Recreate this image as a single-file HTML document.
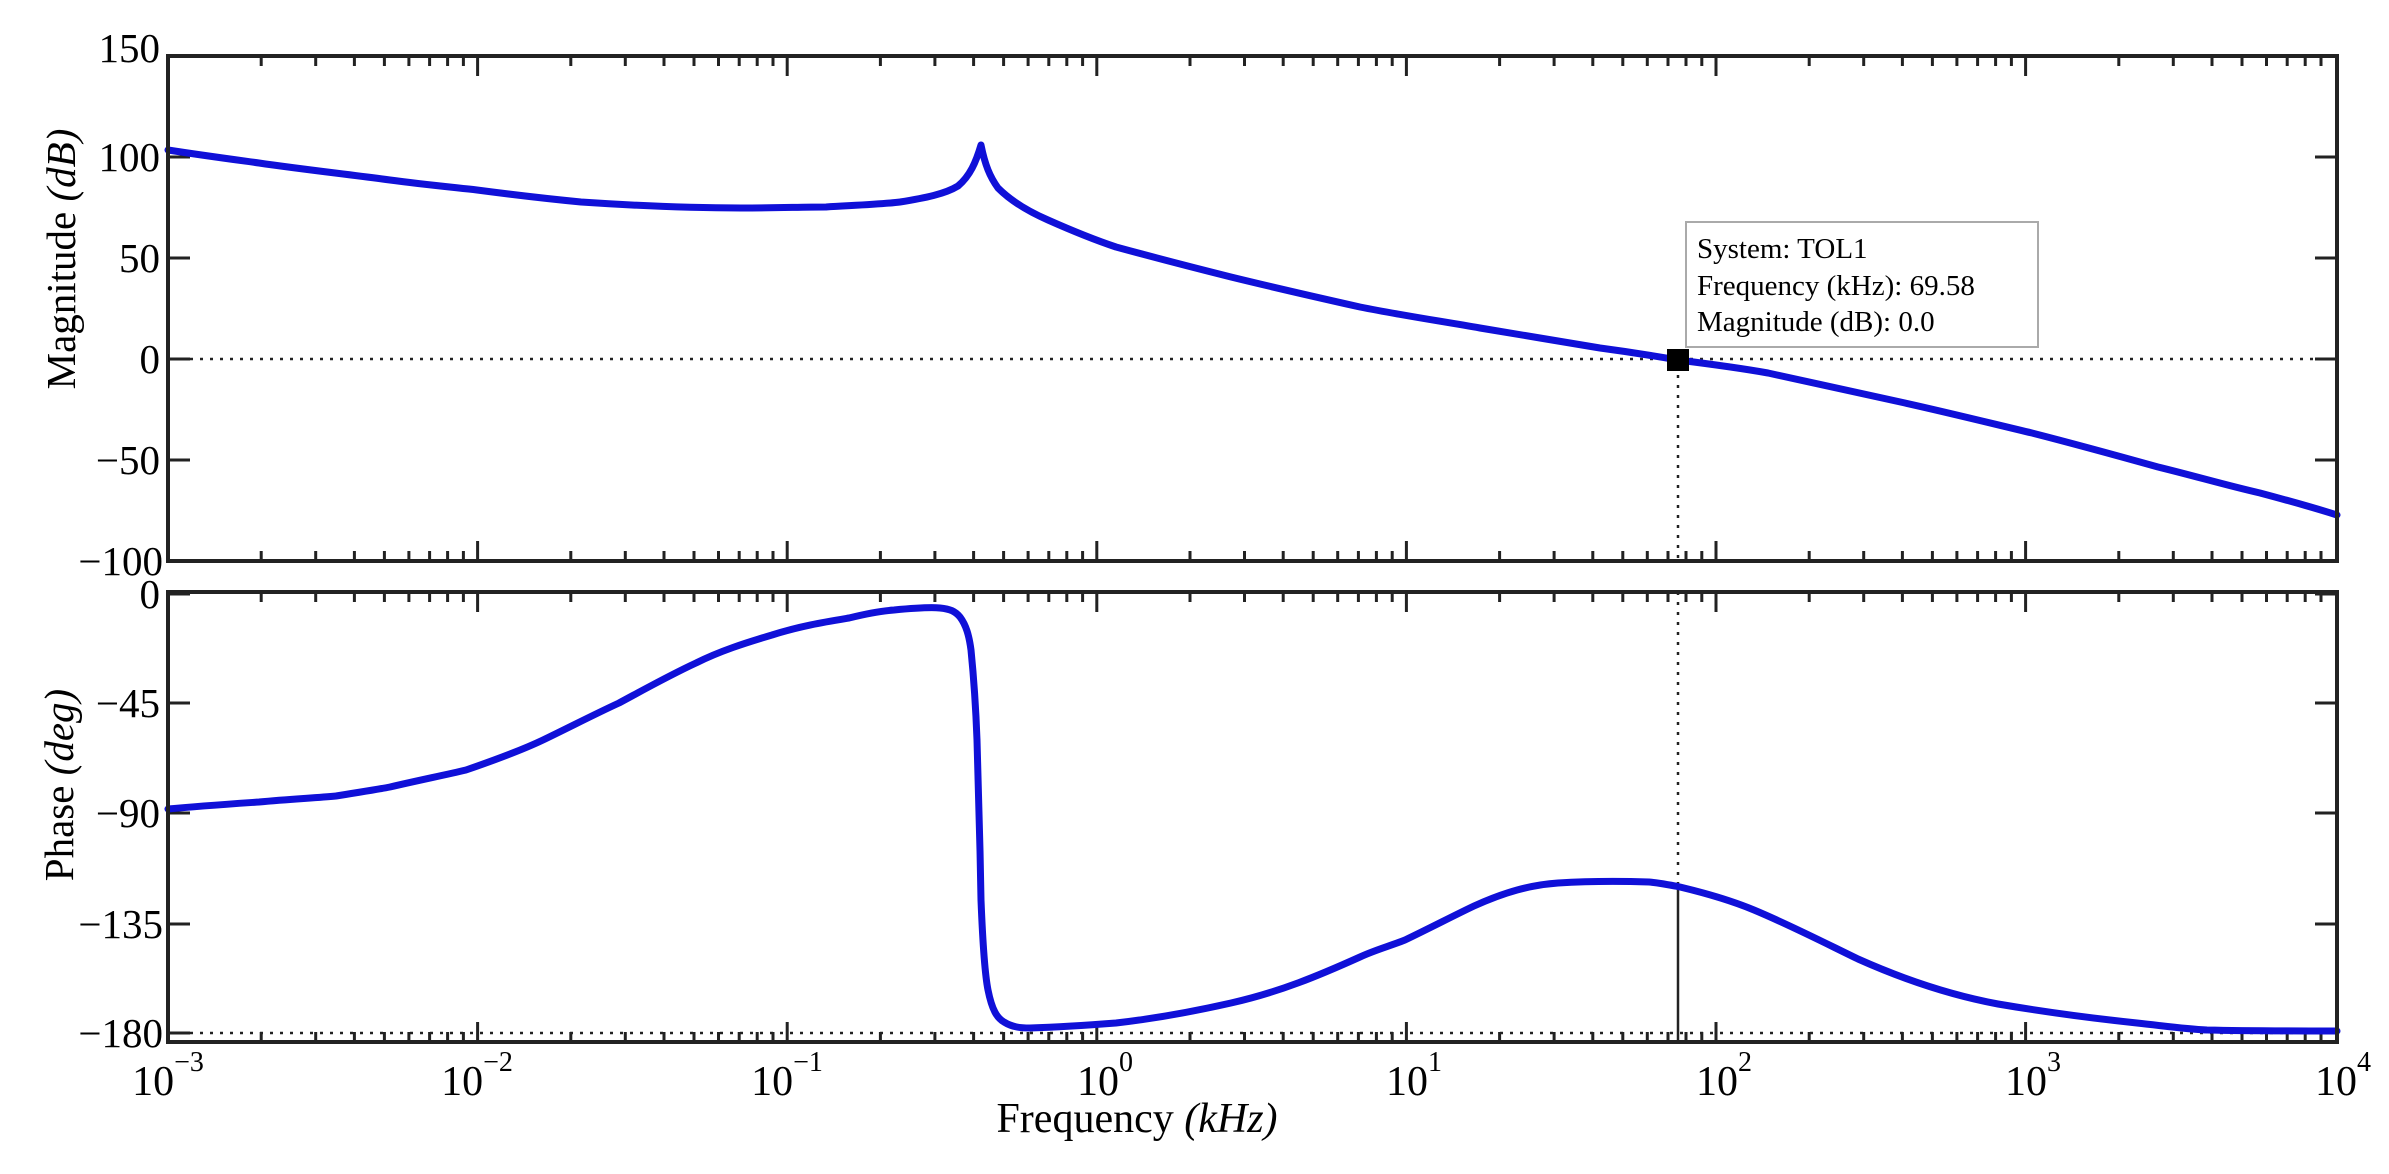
<!DOCTYPE html>
<html><head><meta charset="utf-8"><style>
html,body{margin:0;padding:0;background:#fff;}
svg{display:block;}
text{font-family:"Liberation Serif",serif;fill:#000;}
</style></head><body>
<svg width="2389" height="1174" viewBox="0 0 2389 1174" xmlns="http://www.w3.org/2000/svg">
<defs>
<g id="dec" stroke="#222" stroke-width="3">
<line x1="0" y1="0" x2="0" y2="20"/>
<line x1="93.2" y1="0" x2="93.2" y2="10"/>
<line x1="147.7" y1="0" x2="147.7" y2="10"/>
<line x1="186.4" y1="0" x2="186.4" y2="10"/>
<line x1="216.4" y1="0" x2="216.4" y2="10"/>
<line x1="240.9" y1="0" x2="240.9" y2="10"/>
<line x1="261.6" y1="0" x2="261.6" y2="10"/>
<line x1="279.6" y1="0" x2="279.6" y2="10"/>
<line x1="295.4" y1="0" x2="295.4" y2="10"/>
</g>
<g id="row">
<use href="#dec" x="168"/><use href="#dec" x="477.6"/><use href="#dec" x="787.2"/><use href="#dec" x="1096.8"/><use href="#dec" x="1406.4"/><use href="#dec" x="1716"/><use href="#dec" x="2025.6"/>
</g>
</defs>
<use href="#row" transform="translate(0,56)"/>
<use href="#row" transform="translate(0,561) scale(1,-1)"/>
<use href="#row" transform="translate(0,592)"/>
<use href="#row" transform="translate(0,1042) scale(1,-1)"/>
<g stroke="#222" stroke-width="3">
<line x1="168" y1="157" x2="190" y2="157"/><line x1="2337" y1="157" x2="2315" y2="157"/>
<line x1="168" y1="258" x2="190" y2="258"/><line x1="2337" y1="258" x2="2315" y2="258"/>
<line x1="168" y1="359" x2="190" y2="359"/><line x1="2337" y1="359" x2="2315" y2="359"/>
<line x1="168" y1="460" x2="190" y2="460"/><line x1="2337" y1="460" x2="2315" y2="460"/>
<line x1="168" y1="594" x2="190" y2="594"/><line x1="2337" y1="594" x2="2315" y2="594"/>
<line x1="168" y1="703" x2="190" y2="703"/><line x1="2337" y1="703" x2="2315" y2="703"/>
<line x1="168" y1="813" x2="190" y2="813"/><line x1="2337" y1="813" x2="2315" y2="813"/>
<line x1="168" y1="924" x2="190" y2="924"/><line x1="2337" y1="924" x2="2315" y2="924"/>
<line x1="168" y1="1033" x2="190" y2="1033"/><line x1="2337" y1="1033" x2="2315" y2="1033"/>
</g>
<g stroke="#222" stroke-width="2.5" stroke-dasharray="3,7" fill="none">
<line x1="190" y1="359" x2="2315" y2="359"/>
<line x1="190" y1="1033" x2="2315" y2="1033"/>
<line x1="1678" y1="365" x2="1678" y2="561"/>
<line x1="1678" y1="592" x2="1678" y2="887"/>
</g>
<line x1="1678" y1="887" x2="1678" y2="1042" stroke="#222" stroke-width="2.5"/>
<g fill="none" stroke="#1010d8" stroke-width="7" stroke-linejoin="round" stroke-linecap="round">
<path d="M168,150 C200,155 230,159 259,163 C300,169 345,174 390,180 C420,184 450,187 477,190 C515,195 550,199 581,202 C640,206 690,208 741,208 C780,208 800,207 826,207 C860,205 885,204 900,202 C925,198 945,194 958,186 C970,176 976,162 981,145 C985,165 990,177 998,188 C1010,200 1025,210 1048,220 C1075,232 1095,240 1116,247 C1160,259 1195,268 1231,277 C1280,289 1320,298 1360,307 C1400,315 1440,321 1480,328 C1520,335 1560,341 1600,348 C1630,352 1655,356 1678,360 C1710,364 1740,368 1768,373 C1815,383 1860,393 1905,403 C1950,413 1990,423 2032,433 C2075,444 2115,455 2158,467 C2195,476 2225,485 2260,493 C2290,501 2315,508 2337,515"/>
<path d="M168,809 C200,806 230,804 259,802 C290,799 315,798 336,796 C360,792 375,790 390,787 C420,780 445,775 466,770 C495,760 520,751 543,740 C570,727 595,714 619,703 C645,689 670,675 696,663 C720,651 745,643 772,635 C800,626 825,622 849,618 C865,614 880,611 894,610 C915,608 930,607 940,608 C950,609 955,611 960,617 C966,625 969,635 971,650 C974,680 976,713 977,740 C979,800 980,847 981,900 C983,950 985,975 988,990 C992,1010 997,1018 1004,1022 C1012,1027 1020,1028 1030,1028 C1060,1027 1090,1025 1116,1023 C1160,1018 1200,1010 1231,1003 C1280,992 1320,975 1360,957 C1375,950 1390,946 1405,940 C1430,928 1455,915 1474,906 C1505,892 1530,885 1558,883 C1590,881 1620,881 1649,882 C1660,883 1670,885 1680,887 C1705,893 1730,900 1754,910 C1790,925 1825,943 1858,959 C1905,980 1950,995 1998,1004 C2045,1012 2090,1018 2137,1023 C2165,1026 2185,1029 2207,1030 C2250,1031 2300,1031 2337,1031"/>
</g>
<rect x="168" y="56" width="2169" height="505" fill="none" stroke="#222" stroke-width="4"/>
<rect x="168" y="592" width="2169" height="450" fill="none" stroke="#222" stroke-width="4"/>
<rect x="1667" y="349" width="22" height="22" fill="#000"/>
<rect x="1686" y="222" width="352" height="125" fill="#fff" stroke="#aaa" stroke-width="2"/>
<g font-size="29">
<text x="1697" y="258">System: TOL1</text>
<text x="1697" y="295">Frequency (kHz): 69.58</text>
<text x="1697" y="331">Magnitude (dB): 0.0</text>
</g>
<g font-size="41" text-anchor="end">
<text x="160" y="62">150</text>
<text x="160" y="171">100</text>
<text x="160" y="272">50</text>
<text x="160" y="373">0</text>
<text x="160" y="474">−50</text>
<text x="163" y="575">−100</text>
<text x="160" y="608">0</text>
<text x="160" y="717">−45</text>
<text x="160" y="827">−90</text>
<text x="163" y="938">−135</text>
<text x="163" y="1047">−180</text>
</g>
<g font-size="42">
<text x="168" y="1095" text-anchor="middle">10<tspan font-size="28" dy="-24">−3</tspan></text>
<text x="477" y="1095" text-anchor="middle">10<tspan font-size="28" dy="-24">−2</tspan></text>
<text x="787" y="1095" text-anchor="middle">10<tspan font-size="28" dy="-24">−1</tspan></text>
<text x="1105" y="1095" text-anchor="middle">10<tspan font-size="28" dy="-24">0</tspan></text>
<text x="1414" y="1095" text-anchor="middle">10<tspan font-size="28" dy="-24">1</tspan></text>
<text x="1724" y="1095" text-anchor="middle">10<tspan font-size="28" dy="-24">2</tspan></text>
<text x="2033" y="1095" text-anchor="middle">10<tspan font-size="28" dy="-24">3</tspan></text>
<text x="2343" y="1095" text-anchor="middle">10<tspan font-size="28" dy="-24">4</tspan></text>
</g>
<text x="1137" y="1132" font-size="42" text-anchor="middle">Frequency <tspan font-style="italic">(kHz)</tspan></text>
<text transform="translate(75,259) rotate(-90)" font-size="41" text-anchor="middle">Magnitude <tspan font-style="italic">(dB)</tspan></text>
<text transform="translate(73,785) rotate(-90)" font-size="41" text-anchor="middle">Phase <tspan font-style="italic">(deg)</tspan></text>
</svg>
</body></html>
